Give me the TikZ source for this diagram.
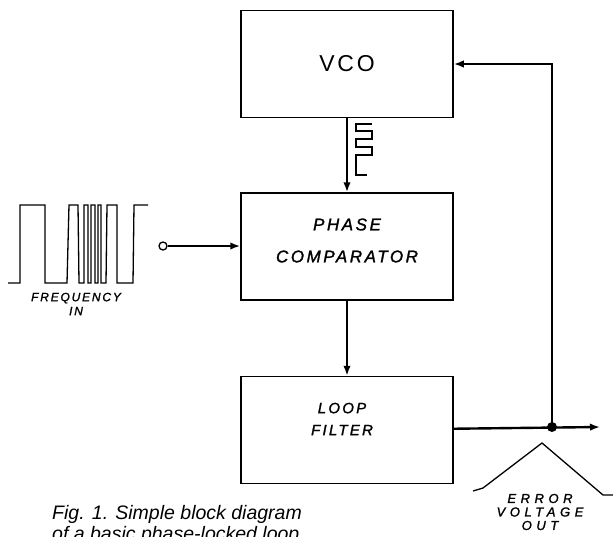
\documentclass[tikz,border=0pt]{standalone}
\usepackage{fontspec}
\setmainfont{Liberation Sans}
\newfontfamily\vcofont[LetterSpace=12]{Liberation Sans}
\newfontfamily\handfont[LetterSpace=15, FakeBold=1.5]{Liberation Sans}
\newfontfamily\handwide[LetterSpace=35, FakeBold=1.5]{Liberation Sans}
\usetikzlibrary{arrows.meta,positioning}

\begin{document}
\begin{tikzpicture}[x=1pt, y=-1pt, >={Latex[length=10pt,width=7.5pt]},
  box/.style={draw, line width=1.5pt, minimum width=212pt, minimum height=107pt, inner sep=0pt},
  hand/.style={align=center, inner sep=0pt},
  wire/.style={line width=2.4pt},
  wave/.style={line width=1.3pt, line join=miter}]
\useasboundingbox (0,0) rectangle (613,536);
\node[box, font=\vcofont\fontsize{23}{23}\selectfont] (vco) at (347,64) {VCO};
\node[box, below=74pt of vco] (pc) {};
\node[box, below=75pt of pc] (lf) {};
\node[hand, font={\handfont\itshape\fontsize{17}{32}\selectfont}] (pc-t) at ([yshift=6pt]pc.center) {PHASE\\COMPARATOR};
\node[hand, font={\handfont\itshape\fontsize{15}{22}\selectfont}] (lf-t) at ([xshift=-5pt, yshift=11pt]lf.center) {LOOP\\FILTER};
% input signal
\draw[wave] (8,283) -- (20,283) -- (20,205) -- (45,205) -- (45,283) -- (67,283) -- (69,205) -- (78,205) -- (79,283) -- (84,283) -- (84,205) -- (88,205) -- (88,283) -- (91,283) -- (91,205) -- (95,205) -- (95,283) -- (98,283) -- (98,205) -- (101,205) -- (101,283) -- (106,283) -- (107,205) -- (117,205) -- (117,283) -- (133,283) -- (134,205) -- (148,205);
\node[hand, font={\handfont\itshape\fontsize{12}{14}\selectfont}] (fin-t) at (76,304) {FREQUENCY\\IN};
\node[circle, draw, line width=1.3pt, inner sep=0pt, minimum size=8pt] (fin) at (163,246) {};
\draw[wire, ->] (fin) -- (fin -| pc.west);
% forward path
\draw[wire, ->] (vco) -- (pc);
\draw[line width=1.2pt] (372,124) -- (356,124) -- (356,131) -- (372,131) -- (372,139) -- (356,139) -- (356,147) -- (372,147) -- (372,155) -- (356,155) -- (356,175) -- (367,175);
\draw[wire, ->] (pc) -- (lf);
% output and feedback
\coordinate (j) at (552,427);
\coordinate (eout) at (600,427);
\draw[wire, ->] (lf) -- (eout);
\fill (j) circle (5pt);
\draw[wire, ->] (j) |- (vco.east);
\draw[wave] (473,491) -- (483,488) -- (542,443) -- (603,495) -- (613,495);
\node[hand, font={\handwide\itshape\fontsize{13}{13.5}\selectfont}] (err-t) at (540,512) {ERROR\\VOLTAGE\\OUT};
% caption
\node[anchor=north west, inner sep=0pt, align=left, font={\itshape\fontsize{19.5}{21}\selectfont}] (cap) at (52,505) {Fig. 1. Simple block diagram\\of a basic phase-locked loop};
\end{tikzpicture}
\end{document}
